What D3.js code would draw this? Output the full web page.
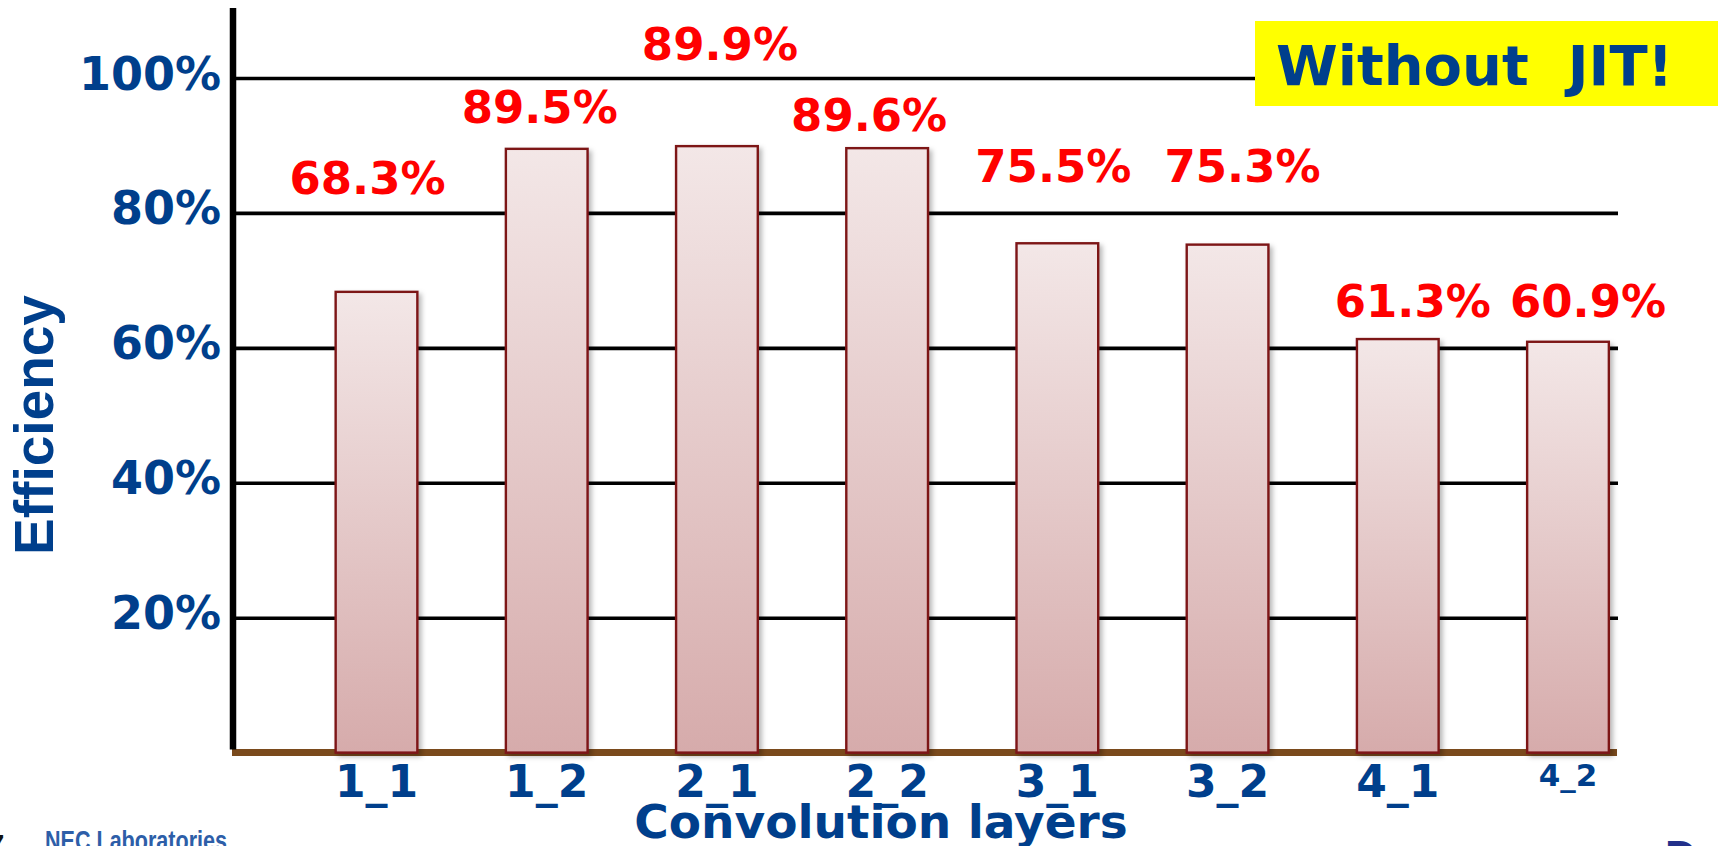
<!DOCTYPE html>
<html>
<head>
<meta charset="utf-8">
<script src="https://cdn.jsdelivr.net/npm/d3@7"></script>
<style>
  html, body { margin: 0; padding: 0; background: #ffffff; overflow: hidden; }
  svg { display: block; }
</style>
</head>
<body>
<svg id="chart" width="1718" height="846"></svg>
<script>
// Convolution layers and their measured efficiency (%)
const categories = ["1_1", "1_2", "2_1", "2_2", "3_1", "3_2", "4_1", "4_2"];
const efficiency = [68.3, 89.5, 89.9, 89.6, 75.5, 75.3, 61.3, 60.9];
const yTicks = [20, 40, 60, 80, 100];
const yTitle = "Efficiency";
const xTitle = "Convolution layers";
const badgeText = "Without  JIT!";
const footerText = "NEC Laboratories";

// Layout
const W = 1718, H = 846;
const axisX = 233, gridRight = 1618;
const BLUE = "#003f8c";
const FONT = "'DejaVu Sans', Verdana, sans-serif";

// Value labels sit where they read best, nudged from each bar's top centre
const labelNudge = [[-9, -98], [-7, -26], [3, -86], [-18, -17], [-4, -61], [15, -63], [15, -22], [20, -25]];

const svg = d3.select("#chart");
const defs = svg.append("defs");

const grad = defs.append("linearGradient")
  .attr("id", "barFill").attr("x1", 0).attr("y1", 0).attr("x2", 0).attr("y2", 1);
grad.append("stop").attr("offset", "0%").attr("stop-color", "#f3e7e7");
grad.append("stop").attr("offset", "100%").attr("stop-color", "#d6abab");

const shadow = defs.append("filter").attr("id", "barShadow")
  .attr("x", "-20%").attr("y", "-10%").attr("width", "150%").attr("height", "130%");
shadow.append("feDropShadow").attr("dx", 3).attr("dy", 3).attr("stdDeviation", 2.5)
  .attr("flood-color", "#000").attr("flood-opacity", 0.28);

const y = d3.scaleLinear().domain([0, 100]).range([752.6, 78]);
const x = d3.scaleBand().domain(categories).range([291.4, 1653.1])
  .paddingInner(0.52).paddingOuter(0.26);

// Horizontal gridlines
const grid = svg.append("g").attr("transform", `translate(${axisX},0)`)
  .call(d3.axisLeft(y).tickValues(yTicks).tickSize(-(gridRight - axisX)).tickFormat(""));
grid.select(".domain").remove();
grid.selectAll(".tick line").attr("stroke", "#000").attr("stroke-width", 3.6);

// Y tick labels
const yAxis = svg.append("g").attr("transform", `translate(${axisX},0)`)
  .call(d3.axisLeft(y).tickValues(yTicks).tickSize(0).tickPadding(12).tickFormat(d => d + "%"));
yAxis.select(".domain").remove();
yAxis.selectAll("text")
  .attr("dy", "0.24em")
  .attr("fill", BLUE).attr("font-family", FONT).attr("font-weight", "bold").attr("font-size", 46);

// Baseline
svg.append("line")
  .attr("x1", axisX - 1).attr("x2", 1617).attr("y1", y(0)).attr("y2", y(0))
  .attr("stroke", "#7a4a1c").attr("stroke-width", 7);

// Vertical axis
svg.append("line")
  .attr("x1", axisX).attr("x2", axisX).attr("y1", 8).attr("y2", y(0) - 3)
  .attr("stroke", "#000").attr("stroke-width", 6.5);

// Bars
const data = categories.map((c, i) => ({ cat: c, value: efficiency[i], i }));
svg.append("g").selectAll("rect").data(data).join("rect")
  .attr("x", d => x(d.cat))
  .attr("y", d => y(d.value))
  .attr("width", x.bandwidth())
  .attr("height", d => y(0) - y(d.value))
  .attr("fill", "url(#barFill)")
  .attr("stroke", "#7d1518").attr("stroke-width", 2.4)
  .attr("filter", "url(#barShadow)");

// Value labels
svg.append("g").selectAll("text").data(data).join("text")
  .attr("x", d => x(d.cat) + x.bandwidth() / 2 + labelNudge[d.i][0])
  .attr("y", d => y(d.value) + labelNudge[d.i][1])
  .attr("text-anchor", "middle")
  .attr("fill", "#ff0000").attr("font-family", FONT).attr("font-weight", "bold").attr("font-size", 45)
  .text(d => d.value.toFixed(1) + "%");

// X tick labels
const xAxis = svg.append("g").attr("transform", `translate(0,${y(0)})`)
  .call(d3.axisBottom(x).tickSize(0).tickPadding(13));
xAxis.select(".domain").remove();
xAxis.selectAll("text")
  .attr("fill", BLUE).attr("font-family", FONT).attr("font-weight", "bold")
  .attr("font-size", d => d === "4_2" ? 31 : 44)
  .attr("y", d => d === "4_2" ? 11 : 13);

// Axis titles
svg.append("text")
  .attr("transform", "translate(53,425) rotate(-90)")
  .attr("text-anchor", "middle")
  .attr("fill", BLUE).attr("font-family", "'Liberation Sans', Arial, sans-serif")
  .attr("font-weight", "bold").attr("font-size", 55)
  .text(yTitle);

svg.append("text")
  .attr("x", 881).attr("y", 838)
  .attr("text-anchor", "middle")
  .attr("fill", BLUE).attr("font-family", FONT).attr("font-weight", "bold").attr("font-size", 47)
  .text(xTitle);

// Badge
svg.append("rect")
  .attr("x", 1255).attr("y", 21).attr("width", W - 1255).attr("height", 85)
  .attr("fill", "#ffff00");
svg.append("text")
  .attr("x", 1276).attr("y", 85)
  .style("white-space", "pre")
  .attr("fill", BLUE).attr("font-family", FONT).attr("font-weight", "bold").attr("font-size", 56)
  .text(badgeText);

// Slide footer
svg.append("text")
  .attr("x", 4).attr("y", 852).attr("text-anchor", "end")
  .attr("fill", "#111").attr("font-family", "'Liberation Sans', Arial, sans-serif")
  .attr("font-weight", "bold").attr("font-size", 24)
  .text("7");
svg.append("text")
  .attr("x", 45).attr("y", 850)
  .attr("textLength", 182).attr("lengthAdjust", "spacingAndGlyphs")
  .attr("fill", "#2d5ea8").attr("font-family", "'Liberation Sans', Arial, sans-serif")
  .attr("font-weight", "bold").attr("font-size", 27)
  .text(footerText);
svg.append("text")
  .attr("x", 1665).attr("y", 872)
  .attr("fill", "#22308a").attr("font-family", "'Liberation Sans', Arial, sans-serif")
  .attr("font-weight", "bold").attr("font-size", 44)
  .text("D");
</script>
</body>
</html>
